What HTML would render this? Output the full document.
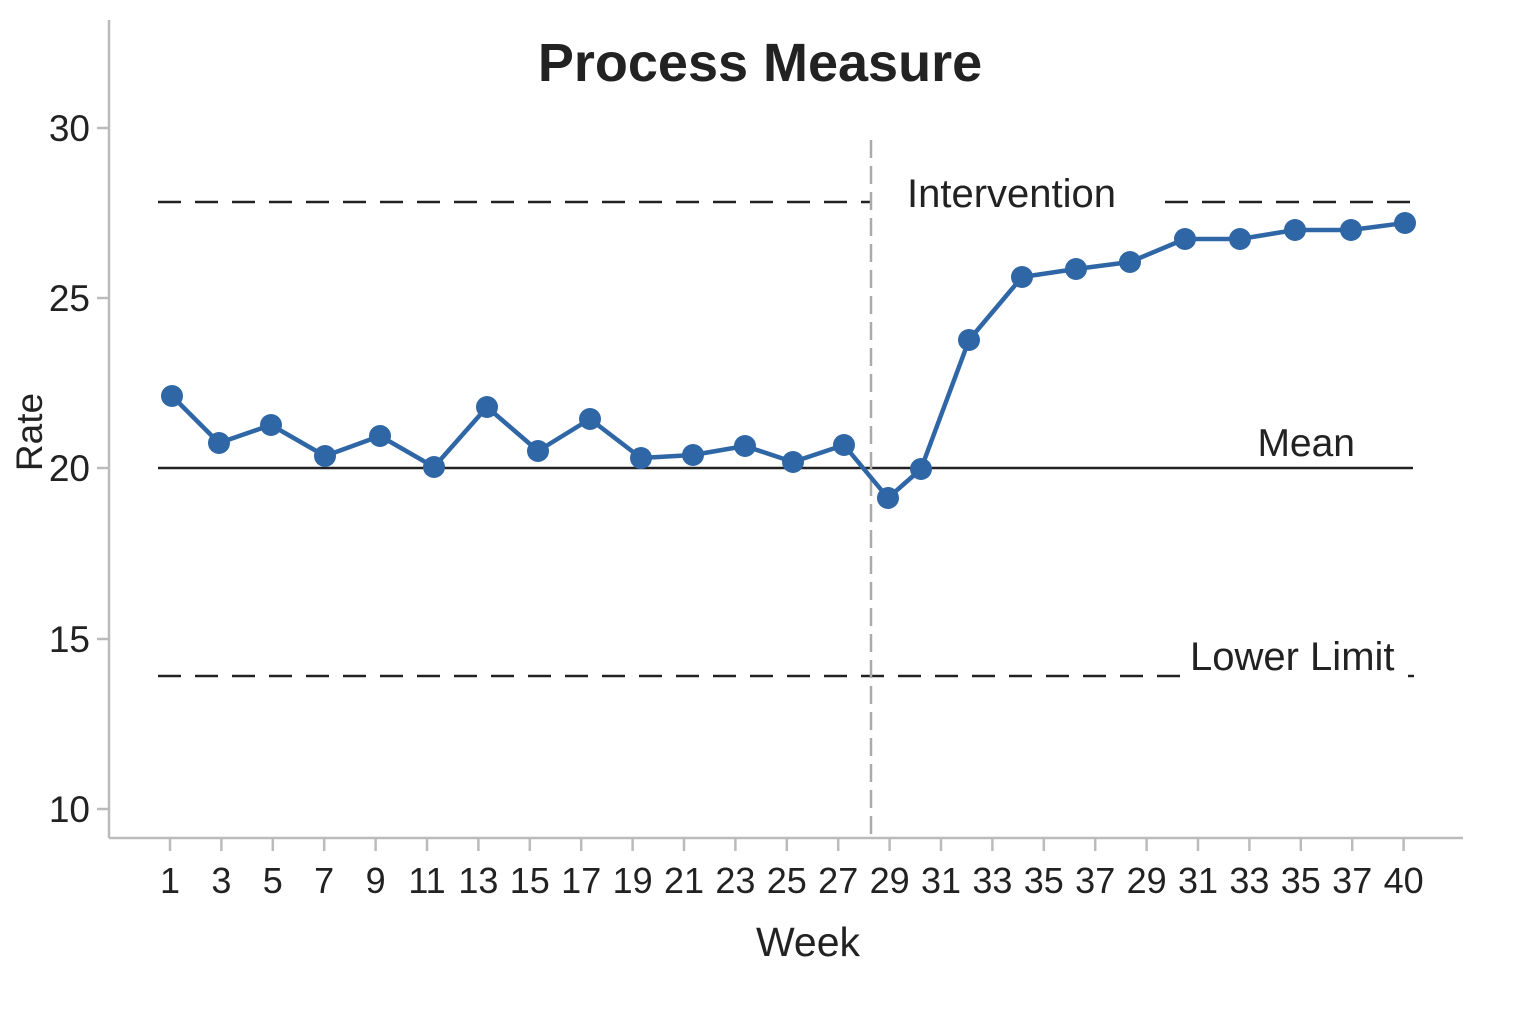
<!DOCTYPE html>
<html><head><meta charset="utf-8"><style>
html,body{margin:0;padding:0;background:#fff;}
svg{display:block;}
text{font-family:"Liberation Sans","DejaVu Sans",sans-serif;fill:#222;}
</style></head><body>
<svg width="1536" height="1024" viewBox="0 0 1536 1024" xmlns="http://www.w3.org/2000/svg">
<rect width="1536" height="1024" fill="#fff"/>
<text x="760" y="81" font-size="54" font-weight="bold" text-anchor="middle">Process Measure</text>
<line x1="109" y1="20" x2="109" y2="838" stroke="#bbb" stroke-width="2.5"/>
<line x1="109" y1="838" x2="1463" y2="838" stroke="#bbb" stroke-width="2.5"/>
<g stroke="#bbb" stroke-width="2.5">
<line x1="97" y1="128" x2="109" y2="128"/><line x1="97" y1="298" x2="109" y2="298"/>
<line x1="97" y1="468" x2="109" y2="468"/><line x1="97" y1="639" x2="109" y2="639"/>
<line x1="97" y1="809" x2="109" y2="809"/>
</g>
<g font-size="37" text-anchor="end">
<text x="90" y="141">30</text><text x="90" y="311">25</text><text x="90" y="481">20</text>
<text x="90" y="652">15</text><text x="90" y="822">10</text>
</g>
<text transform="translate(42,432) rotate(-90)" font-size="37" text-anchor="middle">Rate</text>
<text x="808" y="956" font-size="41" text-anchor="middle">Week</text>
<g stroke="#bbb" stroke-width="2.5" id="ticks"></g>
<g font-size="36" text-anchor="middle" id="xl"></g>
<line x1="158" y1="202" x2="870" y2="202" stroke="#222" stroke-width="2.5" stroke-dasharray="23 14"/>
<line x1="1165" y1="202" x2="1413" y2="202" stroke="#222" stroke-width="2.5" stroke-dasharray="23 14"/>
<line x1="158" y1="676" x2="1185" y2="676" stroke="#222" stroke-width="2.5" stroke-dasharray="23 14"/>
<line x1="1408" y1="676" x2="1414" y2="676" stroke="#222" stroke-width="2.5"/>
<line x1="158" y1="468" x2="1413" y2="468" stroke="#222" stroke-width="2.5"/>
<line x1="871" y1="140" x2="871" y2="838" stroke="#aaa" stroke-width="2.5" stroke-dasharray="18 8"/>
<text x="907" y="207" font-size="40">Intervention</text>
<text x="1355" y="456" font-size="39" text-anchor="end">Mean</text>
<text x="1190" y="670" font-size="40">Lower Limit</text>
<polyline fill="none" stroke="#2f66a6" stroke-width="4.5" stroke-linejoin="round" points="172,396 219,443 271,425 325,456 380,436 434,467 487,407 538,451 590,419 641,458 693,455 745,446 793,462 844,445 888,498 921,469 969,340 1022,277 1076,269 1130,262 1185,239 1240,239 1295,230 1351,230 1405,223"/>
<g fill="#2f66a6" id="pts"></g>
<script>
var pts=[[172,396],[219,443],[271,425],[325,456],[380,436],[434,467],[487,407],[538,451],[590,419],[641,458],[693,455],[745,446],[793,462],[844,445],[888,498],[921,469],[969,340],[1022,277],[1076,269],[1130,262],[1185,239],[1240,239],[1295,230],[1351,230],[1405,223]];
var ns="http://www.w3.org/2000/svg",g=document.getElementById('pts');
pts.forEach(function(p){var c=document.createElementNS(ns,'circle');c.setAttribute('cx',p[0]);c.setAttribute('cy',p[1]);c.setAttribute('r',11);g.appendChild(c);});
var labs=["1","3","5","7","9","11","13","15","17","19","21","23","25","27","29","31","33","35","37","29","31","33","35","37","40"];
var t=document.getElementById('ticks'),xl=document.getElementById('xl');
labs.forEach(function(l,i){var x=170+i*51.4;
var ln=document.createElementNS(ns,'line');ln.setAttribute('x1',x);ln.setAttribute('x2',x);ln.setAttribute('y1',838);ln.setAttribute('y2',851);t.appendChild(ln);
var tx=document.createElementNS(ns,'text');tx.setAttribute('x',x);tx.setAttribute('y',893);tx.textContent=l;xl.appendChild(tx);});
</script>
</svg>
</body></html>
